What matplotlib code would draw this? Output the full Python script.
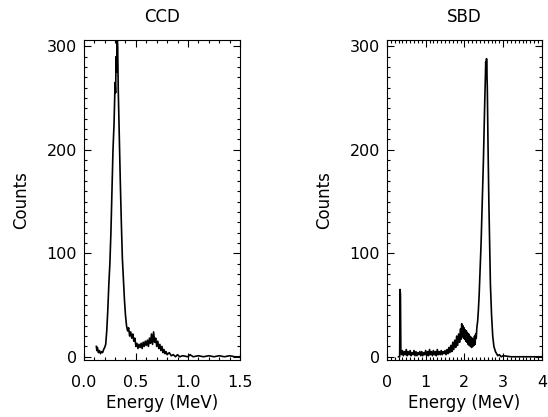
import matplotlib
matplotlib.use('Agg')
import matplotlib.pyplot as plt
from matplotlib.ticker import MultipleLocator, FuncFormatter

# CCD spectrum (Energy in MeV, Counts)
ccd_energy = [0.12, 0.125, 0.13, 0.14, 0.15, 0.16, 0.17, 0.18, 0.19, 0.20,
              0.21, 0.22, 0.23, 0.24, 0.25, 0.26, 0.27, 0.28, 0.29, 0.30,
              0.305, 0.31, 0.315, 0.32, 0.325, 0.33, 0.34, 0.35, 0.36, 0.37,
              0.38, 0.39, 0.40, 0.41, 0.42, 0.43, 0.44, 0.45, 0.46, 0.47,
              0.48, 0.49, 0.50, 0.51, 0.52, 0.53, 0.54, 0.55, 0.56, 0.57,
              0.58, 0.59, 0.60, 0.61, 0.62, 0.63, 0.64, 0.65, 0.66, 0.67,
              0.68, 0.69, 0.70, 0.71, 0.72, 0.73, 0.74, 0.75, 0.76, 0.77,
              0.78, 0.79, 0.80, 0.82, 0.84, 0.86, 0.88, 0.90, 0.92, 0.95,
              1.00, 1.02, 1.05, 1.10, 1.15, 1.20, 1.25, 1.30, 1.35, 1.40,
              1.45, 1.50]
ccd_counts = [10, 6, 9, 4, 6, 3, 5, 4, 7, 9,
              12, 25, 45, 70, 90, 120, 160, 200, 225, 265,
              255, 290, 275, 310, 300, 260, 215, 170, 130, 95,
              75, 55, 40, 30, 25, 28, 20, 24, 18, 22,
              15, 18, 10, 13, 8, 12, 9, 13, 8, 14,
              10, 15, 11, 16, 10, 18, 13, 22, 12, 24,
              14, 18, 10, 15, 8, 12, 6, 10, 4, 7,
              3, 5, 2, 4, 1, 2, 0, 2, 0, 1,
              0, 2, 0, 1, 0, 1, 0, 1, 0, 1,
              0, 0]

# SBD spectrum
sbd_energy = [0.30, 0.33, 0.34, 0.35, 0.36, 0.38,
              0.400, 0.425, 0.450, 0.475, 0.500, 0.525, 0.550, 0.575, 0.600, 0.625,
              0.650, 0.675, 0.700, 0.725, 0.750, 0.775, 0.800, 0.825, 0.850, 0.875,
              0.900, 0.925, 0.950, 0.975, 1.000, 1.025, 1.050, 1.075, 1.100, 1.125,
              1.150, 1.175, 1.200, 1.225, 1.250, 1.275, 1.300, 1.325, 1.350, 1.375,
              1.400, 1.425, 1.450, 1.475,
              1.500, 1.525, 1.550, 1.575, 1.600, 1.625, 1.650, 1.675, 1.700, 1.725,
              1.750, 1.775, 1.800, 1.825, 1.850, 1.875, 1.900, 1.915, 1.930, 1.945,
              1.960, 1.975, 1.990, 2.005, 2.020, 2.035, 2.050, 2.065, 2.080, 2.095,
              2.110, 2.125, 2.140, 2.155, 2.170, 2.185, 2.200, 2.215, 2.230, 2.245,
              2.260, 2.275, 2.290, 2.305, 2.320,
              2.34, 2.36, 2.38, 2.40, 2.43, 2.46, 2.49, 2.52, 2.55, 2.56,
              2.57, 2.59, 2.61, 2.63, 2.65, 2.67, 2.70, 2.73, 2.76, 2.80,
              2.83, 2.86, 2.90, 2.95, 3.00, 3.20, 3.50, 4.00]
sbd_counts = [0, 0, 65, 60, 5, 2,
              6, 1, 5, 2, 7, 1, 5, 2, 6, 1,
              4, 2, 6, 1, 5, 1, 4, 2, 5, 1,
              5, 1, 4, 2, 6, 1, 5, 1, 7, 2,
              5, 1, 6, 2, 5, 1, 7, 2, 5, 2,
              6, 2, 5, 3,
              6, 2, 7, 3, 9, 4, 11, 5, 14, 7,
              16, 9, 20, 11, 22, 14, 27, 17, 32, 20,
              30, 18, 28, 17, 26, 15, 25, 14, 23, 12,
              22, 11, 20, 10, 19, 9, 18, 10, 17, 11,
              20, 12, 22, 18, 28,
              34, 45, 60, 80, 110, 150, 190, 240, 285, 270,
              288, 260, 200, 150, 110, 70, 40, 20, 10, 5,
              3, 1, 2, 0, 1, 0, 0, 0]

plt.rcParams['font.family'] = ['DejaVu Sans']
fig = plt.figure(figsize=(5.48, 4.17), dpi=100)

panels = [
    ('CCD', ccd_energy, ccd_counts, (0, 1.5), 0.5, 0.1, [0.153, 0.137, 0.285, 0.767], '{:.1f}'),
    ('SBD', sbd_energy, sbd_counts, (0, 4), 1, 0.1, [0.706, 0.137, 0.283, 0.767], '{:.0f}'),
]

for title, x, y, xlim, xmaj, xmin, rect, fmt in panels:
    ax = fig.add_axes(rect)
    ax.plot(x, y, color='black', lw=1.2)
    ax.set_xlim(*xlim)
    ax.set_ylim(-3, 306)
    ax.xaxis.set_major_locator(MultipleLocator(xmaj))
    ax.xaxis.set_minor_locator(MultipleLocator(xmin))
    ax.yaxis.set_major_locator(MultipleLocator(100))
    ax.yaxis.set_minor_locator(MultipleLocator(10))
    ax.xaxis.set_major_formatter(FuncFormatter(lambda v, p, f=fmt: f.format(v)))
    ax.tick_params(which='both', direction='in', top=True, right=True, labelsize=11.5, width=0.8)
    ax.tick_params(which='major', length=5)
    ax.tick_params(axis='x', which='major', pad=11)
    ax.tick_params(axis='y', which='major', pad=5)
    ax.tick_params(which='minor', length=2.5)
    for s in ax.spines.values():
        s.set_linewidth(0.8)
    ax.set_title(title, fontsize=12, pad=13)
    ax.set_xlabel('Energy (MeV)', fontsize=12, labelpad=3)
    ax.set_ylabel('Counts', fontsize=12, labelpad=12)

fig.savefig('out.png', dpi=100)
